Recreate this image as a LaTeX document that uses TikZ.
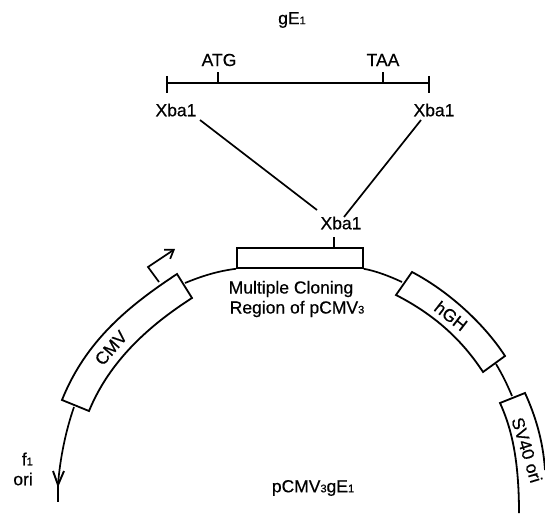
\documentclass[tikz,border=0pt]{standalone}
\usepackage{fontspec}
\setmainfont{Liberation Sans}[FakeBold=0.45]
\usetikzlibrary{arrows.meta}
\newcommand{\lbl}{\fontsize{17.5}{20}\selectfont}
\newcommand{\sml}[1]{{\fontsize{11}{11}\selectfont #1}}
\tikzset{
  ln/.style={line width=1.7pt,black},
  txt/.style={inner sep=0pt,align=center,font=\lbl,text=black},
  boxedge/.style={line width=1.8pt,black,line join=miter}
}
\begin{document}
\begin{tikzpicture}[x=1pt,y=-1pt]
\useasboundingbox (0,0) rectangle (545,513);
% labels
\node[txt] (ge) at (292,20) {gE\sml{1}};
\node[txt] (atg) at (219,60) {ATG};
\node[txt] (taa) at (383,60) {TAA};
\node[txt] (xl) at (176,110) {Xba1};
\node[txt] (xr) at (434,110) {Xba1};
\node[txt] (xm) at (341,223) {Xba1};
\node[txt] (mcr) at (297,299) {Multiple Cloning\hspace*{12pt}\\Region of pCMV\sml{3}};
\node[txt] (name) at (313,488) {pCMV\sml{3}gE\sml{1}};
\node[txt,align=right,anchor=east] (ori) at (33,469) {f\sml{1}\\ori};
% gene bar
\coordinate (b1) at (167,83); \coordinate (b2) at (429,83);
\coordinate (ta) at (218,83); \coordinate (tt) at (383,83);
\coordinate (ta2) at (218,72); \coordinate (tt2) at (383,72);
\draw[ln] (b1) -- (b2);
\draw[ln] (167,76) -- (167,93);
\draw[ln] (429,76) -- (429,93);
\draw[ln] (ta) -- (ta2);
\draw[ln] (tt) -- (tt2);
% insert lines
\coordinate (l1) at (200,120); \coordinate (l2) at (317,210);
\coordinate (r1) at (421,120); \coordinate (r2) at (344,217);
\draw[ln] (l1) -- (l2);
\draw[ln] (r1) -- (r2);
% MCS
\node[draw,boxedge,minimum width=126pt,minimum height=20pt,inner sep=0pt,anchor=north west] (mcs) at (236,247) {};
\coordinate (st) at (334,237);
\draw[ln] (st) -- (334,247);
% plasmid backbone
\coordinate (cTR) at (185,283);
\draw[ln] (mcs.south west) .. controls (218,271) and (202,276) .. (cTR);
\coordinate (cBL) at (74,407);
\coordinate (tip) at (58,485);
\coordinate (end) at (58,502);
\draw[ln] (cBL) .. controls (66,430) and (60,458) .. (tip);
\draw[ln] (tip) -- (end);
\draw[line width=1.9pt,black,line join=miter] (53,471) -- (tip) -- (64,471);
\coordinate (hTL) at (402,282);
\draw[ln] (mcs.south east) .. controls (376,271) and (389,276) .. (hTL);
\coordinate (hBR) at (496,364);
\coordinate (sT) at (512,396);
\draw[ln] (hBR) .. controls (502,374) and (507,384) .. (sT);
% CMV box
\draw[boxedge,fill=white] (62,400) .. controls (86,340) and (130,305) .. (177,274) -- (192,298) .. controls (150,325) and (110,360) .. (89,411) -- cycle;
\node[txt,rotate=49] (cmv) at (111,348) {CMV};
% promoter arrow
\coordinate (p0) at (159,282); \coordinate (p1) at (148,267); \coordinate (p2) at (175,249);
\draw[ln,-{Straight Barb[length=8pt,width=11pt]}] (p0) -- (p1) -- (p2);
% hGH box
\draw[boxedge,fill=white] (412,272) .. controls (450,292) and (485,325) .. (505,356) -- (483,372) .. controls (462,340) and (435,315) .. (396,295) -- cycle;
\node[txt,rotate=-38] (hgh) at (451,316) {hGH};
% SV40 box
\draw[boxedge] (545,470) .. controls (543,440) and (535,415) .. (525,393) -- (500,403) .. controls (510,425) and (519,455) .. (519,513);
\node[txt,rotate=-73] (sv) at (527,450) {SV40 ori};
\end{tikzpicture}
\end{document}
